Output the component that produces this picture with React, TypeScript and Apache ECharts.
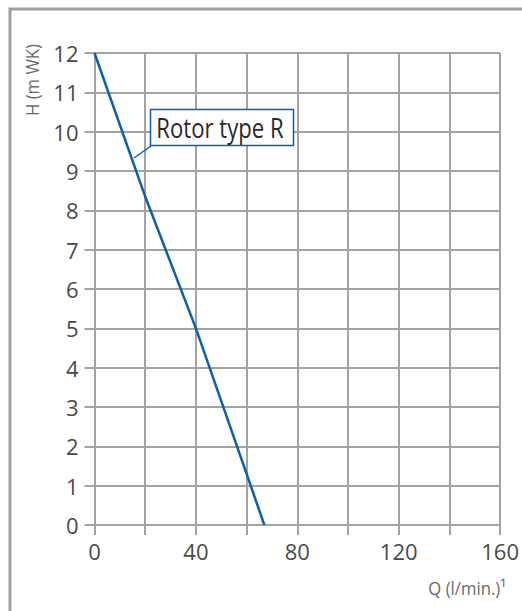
import React, { useEffect, useRef } from "react";
import * as echarts from "echarts";

const flowQ = [0, 20, 40, 60, 67];
const headH = [12, 8.35, 5, 1.3, 0];
const xTicks = [0, 40, 80, 120, 160];
const yTicks = [0, 1, 2, 3, 4, 5, 6, 7, 8, 9, 10, 11, 12];
const seriesName = "Rotor type R";
const xName = "Q (l/min.)¹";
const yName = "H (m WK)";

const FONT = "'Open Sans', sans-serif";
const GRID = "#a3a3a3";
const TXT = "#4a4a4a";

export default function App() {
  const ref = useRef<HTMLDivElement>(null);
  useEffect(() => {
    if (!ref.current) return;
    const chart = echarts.init(ref.current, undefined, { renderer: "svg" });
    const tick = { show: true, length: 10, lineStyle: { color: GRID, width: 2 } };
    const split = { show: true, lineStyle: { color: GRID, width: 2 } };
    const xBase = {
      type: "value" as const,
      min: 0,
      max: 160,
      interval: 20,
      axisLine: { show: false },
      axisTick: tick,
      splitLine: split,
    };
    const yBase = {
      type: "value" as const,
      min: 0,
      max: 12,
      interval: 1,
      axisLine: { show: false },
      axisTick: tick,
      splitLine: split,
    };
    chart.setOption({
      animation: false,
      backgroundColor: "#fff",
      grid: { left: 94.5, right: 18, top: 53, bottom: 86, containLabel: false },
      xAxis: [
        {
          ...xBase,
          position: "bottom",
          axisLabel: {
            show: true,
            margin: 15,
            fontSize: 22,
            fontFamily: FONT,
            color: TXT,
            formatter: (v: number) => (xTicks.includes(v) ? String(v) : ""),
          },
        },
        { ...xBase, position: "top", axisLabel: { show: false }, splitLine: { show: false } },
      ],
      yAxis: [
        {
          ...yBase,
          position: "left",
          axisLabel: {
            show: true,
            margin: 16,
            fontSize: 22,
            fontFamily: FONT,
            color: TXT,
            formatter: (v: number) => (yTicks.includes(v) ? String(v) : ""),
          },
        },
        { ...yBase, position: "right", axisLabel: { show: false }, splitLine: { show: false } },
      ],
      series: [
        {
          name: seriesName,
          type: "line",
          data: flowQ.map((q, i) => [q, headH[i]]),
          showSymbol: false,
          symbol: "none",
          lineStyle: { color: "#0b5fad", width: 2.5 },
          z: 5,
        },
      ],
      graphic: [
        {
          type: "rect",
          shape: { x: 10, y: 9, width: 700, height: 800 },
          style: { fill: "none", stroke: "#a0a0a0", lineWidth: 3 },
          silent: true,
        },
        {
          type: "text",
          x: 32,
          y: 80,
          rotation: Math.PI / 2,
          scaleX: 0.88,
          style: {
            text: yName,
            fontSize: 19,
            fontFamily: FONT,
            fill: "#6a6a6a",
            align: "center",
            verticalAlign: "middle",
          },
        },
        {
          type: "text",
          x: 506,
          y: 588,
          scaleX: 0.88,
          style: {
            text: xName,
            fontSize: 19,
            fontFamily: FONT,
            fill: "#6a6a6a",
            align: "right",
            verticalAlign: "middle",
          },
        },
        {
          type: "line",
          shape: { x1: 134, y1: 158, x2: 151, y2: 146 },
          style: { stroke: "#0b5fad", lineWidth: 1.5 },
          z: 10,
        },
        {
          type: "rect",
          shape: { x: 150.5, y: 109.5, width: 143, height: 36 },
          style: { fill: "#fff", stroke: "#0b5fad", lineWidth: 1.5 },
          z: 10,
        },
        {
          type: "text",
          x: 220,
          y: 128,
          scaleX: 0.82,
          style: {
            text: seriesName,
            fontSize: 27,
            fontFamily: FONT,
            fill: "#2a2a2a",
            align: "center",
            verticalAlign: "middle",
          },
          z: 11,
        },
      ],
    });
    return () => chart.dispose();
  }, []);
  return (
    <div
      ref={ref}
      style={{ position: "fixed", left: 0, top: 0, width: 522, height: 611 }}
    />
  );
}
